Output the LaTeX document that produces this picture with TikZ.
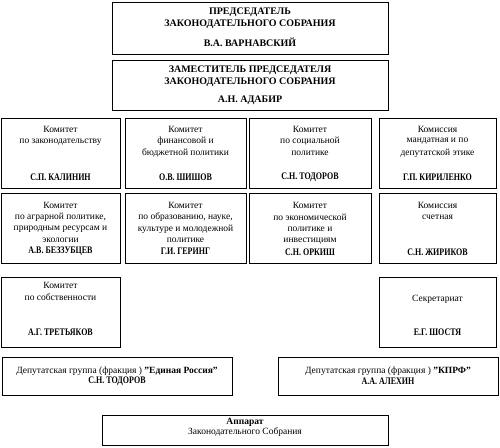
\documentclass[tikz,border=0pt]{standalone}
\usepackage{fontspec}
\setmainfont{Liberation Serif}
\newfontfamily\namefont[FakeStretch=0.8]{Liberation Serif}
\begin{document}
\begin{tikzpicture}[x=1pt,y=-1pt,
  box/.style={draw=black,line width=0.8pt},
  txt/.style={inner sep=0pt,anchor=center,font=\fontsize{9.5}{11}\selectfont},
  head/.style={inner sep=0pt,anchor=center,font=\fontsize{10}{12}\selectfont\bfseries},
  nm/.style={inner sep=0pt,anchor=center,font=\fontsize{10}{12}\namefont\bfseries}]
\useasboundingbox (0,0) rectangle (500,447);
% top boxes
\draw[box] (112,2) rectangle (388,54) coordinate (p1);
\node[head] (p1a) at (250,12) {ПРЕДСЕДАТЕЛЬ};
\node[head] (p1b) at (250,24) {ЗАКОНОДАТЕЛЬНОГО СОБРАНИЯ};
\node[head] (p1c) at (250,42) {В.А. ВАРНАВСКИЙ};
\draw[box] (112,60) rectangle (388,110) coordinate (p2);
\node[head] (p2a) at (250,70) {ЗАМЕСТИТЕЛЬ ПРЕДСЕДАТЕЛЯ};
\node[head] (p2b) at (250,82) {ЗАКОНОДАТЕЛЬНОГО СОБРАНИЯ};
\node[head] (p2c) at (250,100) {А.Н. АДАБИР};
% row 1
\draw[box] (1,118) rectangle (120,188);
\draw[box] (125,118) rectangle (246,188);
\draw[box] (249,118) rectangle (371,188);
\draw[box] (379,118) rectangle (496,188);
\node[txt] (a1) at (60.5,129) {Комитет};
\node[txt] (a2) at (60.5,142) {по законодательству};
\node[nm] (a3) at (60.5,177) {С.П. КАЛИНИН};
\node[txt] (b1) at (185.5,129) {Комитет};
\node[txt] (b2) at (185.5,141) {финансовой и};
\node[txt] (b3) at (185.5,153) {бюджетной политики};
\node[nm] (b4) at (185.5,177) {О.В. ШИШОВ};
\node[txt] (c1) at (310,129) {Комитет};
\node[txt] (c2) at (310,141) {по социальной};
\node[txt] (c3) at (310,153) {политике};
\node[nm] (c4) at (310,177) {С.Н. ТОДОРОВ};
\node[txt] (d1) at (437.5,129) {Комиссия};
\node[txt] (d2) at (437.5,141) {мандатная и по};
\node[txt] (d3) at (437.5,153) {депутатской этике};
\node[nm] (d4) at (437.5,177) {Г.П. КИРИЛЕНКО};
% row 2
\draw[box] (1,193) rectangle (120,263);
\draw[box] (125,193) rectangle (246,263);
\draw[box] (249,193) rectangle (371,263);
\draw[box] (379,193) rectangle (496,263);
\node[txt] (e1) at (60.5,205) {Комитет};
\node[txt] (e2) at (60.5,217) {по аграрной политике,};
\node[txt] (e3) at (60.5,229) {природным ресурсам и};
\node[txt] (e4) at (60.5,240) {экологии};
\node[nm] (e5) at (60.5,251) {А.В. БЕЗЗУБЦЕВ};
\node[txt] (f1) at (185.5,205) {Комитет};
\node[txt] (f2) at (185.5,217) {по образованию, науке,};
\node[txt] (f3) at (185.5,229) {культуре и молодежной};
\node[txt] (f4) at (185.5,240) {политике};
\node[nm] (f5) at (185.5,251) {Г.И. ГЕРИНГ};
\node[txt] (g1) at (310,205) {Комитет};
\node[txt] (g2) at (310,217) {по экономической};
\node[txt] (g3) at (310,229) {политике и};
\node[txt] (g4) at (310,241) {инвестициям};
\node[nm] (g5) at (310,252) {С.Н. ОРКИШ};
\node[txt] (h1) at (437.5,205) {Комиссия};
\node[txt] (h2) at (437.5,217) {счетная};
\node[nm] (h3) at (437.5,252) {С.Н. ЖИРИКОВ};
% row 3
\draw[box] (1,277) rectangle (120,347);
\draw[box] (379,277) rectangle (496,347);
\node[txt] (i1) at (60.5,285) {Комитет};
\node[txt] (i2) at (60.5,297) {по собственности};
\node[nm] (i3) at (60.5,332) {А.Г. ТРЕТЬЯКОВ};
\node[txt] (j1) at (437.5,299) {Секретариат};
\node[nm] (j2) at (437.5,332) {Е.Г. ШОСТЯ};
% row 4
\draw[box] (2,357) rectangle (232,395);
\draw[box] (278,357) rectangle (498,395);
\node[txt] (k1) at (117,371) {Депутатская группа (фракция ) \textbf{"Единая Россия"}};
\node[nm] (k2) at (117,381) {С.Н. ТОДОРОВ};
\node[txt] (l1) at (388,371) {Депутатская группа (фракция ) \textbf{"КПРФ"}};
\node[nm] (l2) at (388,381) {А.А. АЛЕХИН};
% bottom
\draw[box] (102,415) rectangle (388,445);
\node[txt,font=\fontsize{9.5}{11}\selectfont\bfseries] (m1) at (245,422) {Аппарат};
\node[txt] (m2) at (245,432) {Законодательного Собрания};
\end{tikzpicture}
\end{document}
